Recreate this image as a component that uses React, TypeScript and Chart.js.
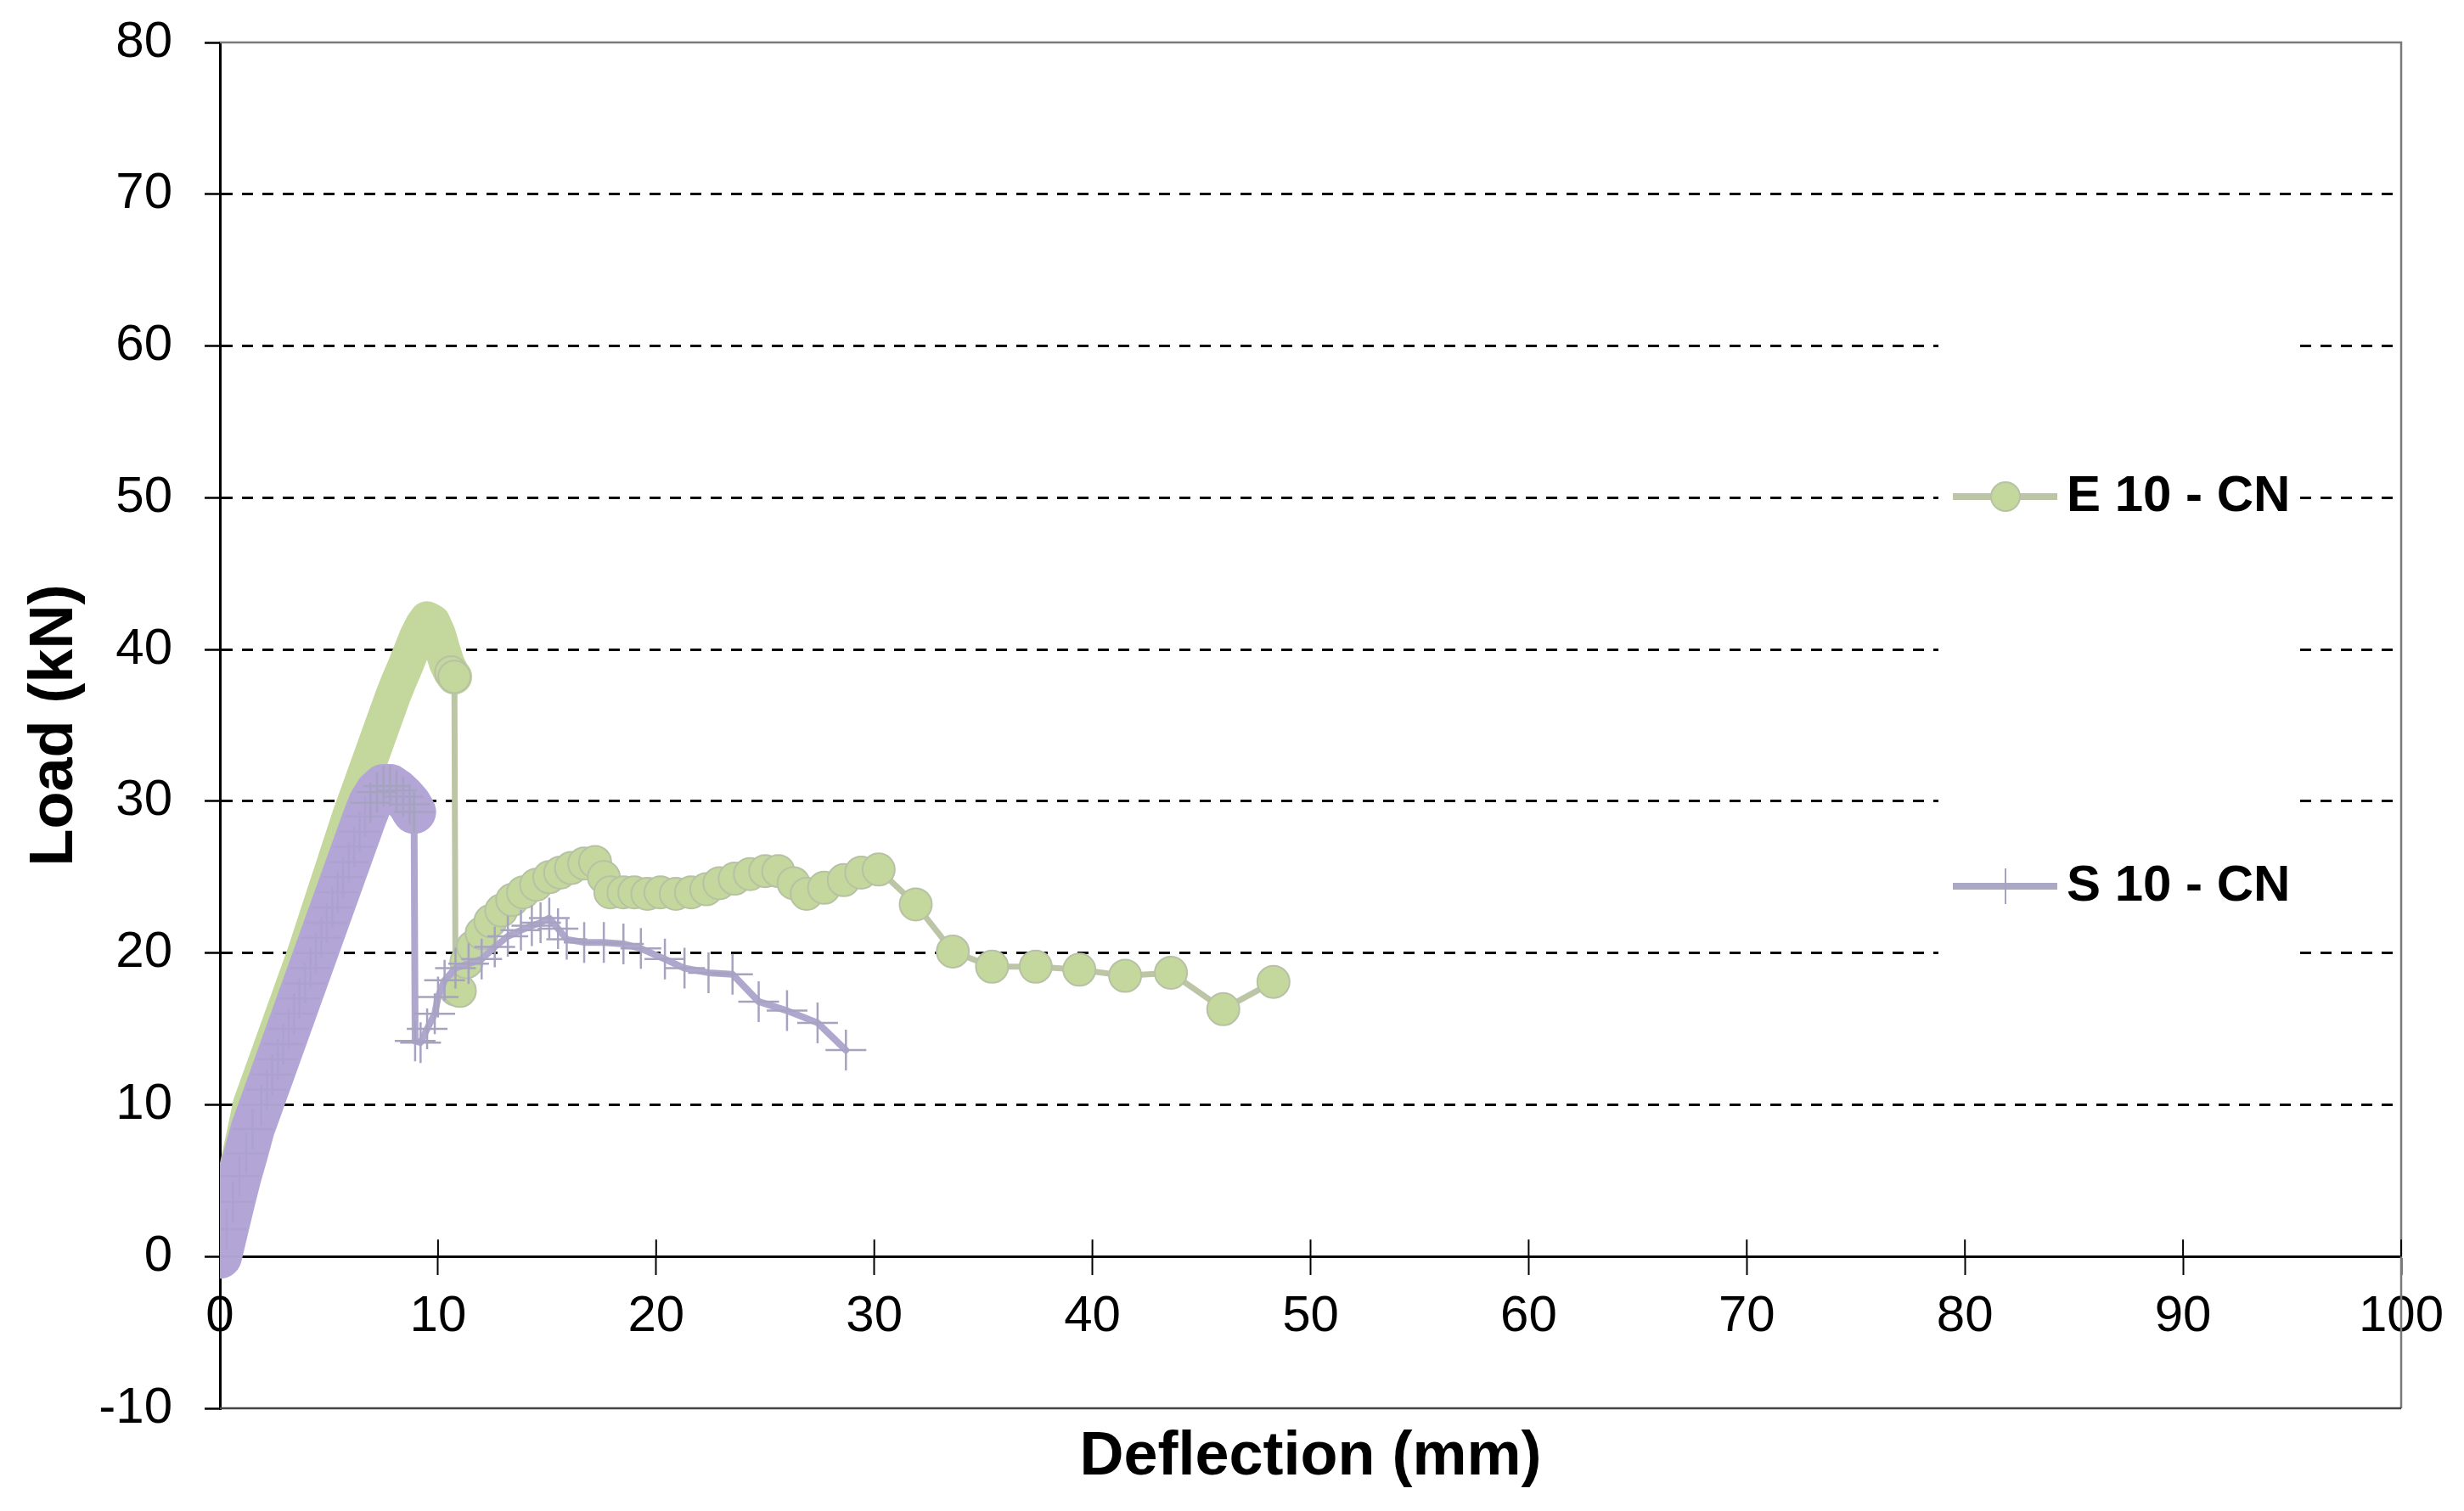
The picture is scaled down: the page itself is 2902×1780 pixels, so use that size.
import React, { useEffect, useRef } from "react";
import { Chart, registerables } from "chart.js";

Chart.register(...registerables);

const FONT = "'Liberation Sans', Arial, Helvetica, sans-serif";

// ---- axis ticks / labels ----
const xTickValues = [0, 10, 20, 30, 40, 50, 60, 70, 80, 90, 100];
const yTickValues = [-10, 0, 10, 20, 30, 40, 50, 60, 70, 80];
const dashedGridValues = [10, 20, 30, 40, 50, 60, 70];
const seriesNames = ["E 10 - CN", "S 10 - CN"];
const xAxisTitle = "Deflection (mm)";
const yAxisTitle = "Load (kN)";

// ---- series E 10 - CN (green circles) ----
const e10Deflection = [
  0, 0.15, 0.3, 0.5, 0.7, 0.9, 1.1, 1.4, 1.65, 1.9, 2.15, 2.4, 2.65, 2.9, 3.15, 3.4, 3.65, 3.9,
  4.15, 4.4, 4.65, 4.9, 5.2, 5.45, 5.7, 5.95, 6.2, 6.45, 6.7, 6.95, 7.2, 7.45, 7.7, 7.95, 8.2, 8.5,
  8.8, 9.05, 9.3, 9.5, 9.75, 10.0, 10.2, 10.4, 10.6, 10.75, 10.8, 11.0, 11.3, 11.6, 12.0, 12.4,
  12.9, 13.4, 13.9, 14.5, 15.1, 15.6, 16.1, 16.7, 17.2, 17.6, 17.9, 18.5, 19.0, 19.6, 20.2, 20.9,
  21.6, 22.3, 22.9, 23.6, 24.3, 25.0, 25.6, 26.3, 26.9, 27.7, 28.6, 29.4, 30.2, 31.9, 33.6, 35.4,
  37.4, 39.4, 41.5, 43.6, 46.0, 48.3,
];
const e10Load = [
  0, 1.2, 2.4, 3.8, 5.2, 6.6, 7.9, 10, 11, 12, 13, 14, 15, 16, 17, 18, 19, 20,
  21.1, 22.2, 23.3, 24.4, 25.7, 26.8, 27.9, 29, 30, 31, 32, 33, 34, 35, 36, 37, 37.9, 38.9,
  40, 40.9, 41.6, 42, 41.8, 41, 40, 39.1, 38.5, 38.2, 17.6, 17.5, 19.4, 20.4, 21.3, 22.1,
  22.8, 23.5, 24.0, 24.5, 25.0, 25.3, 25.6, 25.9, 26.0, 25.0, 24.0, 24.0, 24.0, 23.9, 24.0, 23.9,
  24.0, 24.2, 24.6, 24.9, 25.2, 25.4, 25.4, 24.6, 23.9, 24.3, 24.8, 25.3, 25.5, 23.2, 20.1, 19.1,
  19.1, 18.9, 18.5, 18.7, 16.3, 18.1,
];

// ---- series S 10 - CN (purple crosses) ----
const s10Deflection = [
  0, 0.3, 0.6, 0.9, 1.2, 1.5, 1.9, 2.15, 2.4, 2.65, 2.9, 3.15, 3.4, 3.65, 3.9, 4.15, 4.4, 4.65,
  4.9, 5.15, 5.4, 5.65, 5.9, 6.15, 6.4, 6.65, 6.9, 7.2, 7.5, 7.8, 8.1, 8.4, 8.7, 8.9, 8.95, 9.2,
  9.5, 9.85, 10.0, 10.3, 10.8, 11.4, 12.0, 12.6, 13.2, 13.8, 14.3, 14.7, 15.1, 15.5, 15.9, 16.7,
  17.6, 18.5, 19.3, 20.4, 21.3, 22.4, 23.5, 24.7, 26.0, 27.4, 28.7,
];
const s10Load = [
  0, 1.8, 3.6, 5.3, 6.8, 8.4, 10, 11, 12, 13, 14, 15, 16, 17, 18, 19, 20, 21,
  22, 23, 24, 25, 26, 27, 28, 29, 29.9, 30.6, 31, 31, 30.7, 30.3, 29.8, 29.3, 14.2, 14.1,
  15, 16, 17.1, 18.2, 19, 19.3, 19.6, 20.4, 21.1, 21.5, 21.8, 22.0, 22.3, 21.6, 20.9, 20.7,
  20.7, 20.6, 20.3, 19.6, 19.0, 18.7, 18.6, 16.8, 16.2, 15.4, 13.6,
];

const GREEN_FILL = "#c4d79c";
const GREEN_EDGE = "#b7c2a5";
const GREEN_LINE = "#bcc6a7";
const PURPLE_BAND = "#b3a6d6";
const PURPLE_LINE = "#b0a7cf";
const PURPLE_MARK = "#a6a3c1";

const toPoints = (xs: number[], ys: number[]) => xs.map((x, i) => ({ x, y: ys[i] }));
// index of the last point before the big load drop (end of the dense loading branch)
const lastBeforeDrop = (ys: number[]) =>
  ys.findIndex((v, i) => i < ys.length - 1 && v - ys[i + 1] > 10);
const e10BandEnd = lastBeforeDrop(e10Load);
const s10BandEnd = lastBeforeDrop(s10Load);

const decorPlugin = {
  id: "decor",
  beforeDatasetsDraw(chart: any) {
    const { ctx, chartArea: a, scales } = chart;
    ctx.save();
    ctx.strokeStyle = "#7a7a7a";
    ctx.lineWidth = 2.5;
    ctx.beginPath();
    ctx.moveTo(a.left, a.top);
    ctx.lineTo(a.right, a.top);
    ctx.lineTo(a.right, a.bottom);
    ctx.stroke();
    ctx.strokeStyle = "#444";
    ctx.beginPath();
    ctx.moveTo(a.left, a.bottom);
    ctx.lineTo(a.right, a.bottom);
    ctx.stroke();
    const y0 = scales.y.getPixelForValue(0);
    ctx.strokeStyle = "#000";
    ctx.lineWidth = 2;
    for (const v of xTickValues) {
      const px = scales.x.getPixelForValue(v);
      ctx.beginPath();
      ctx.moveTo(px, y0);
      ctx.lineTo(px, y0 - 20);
      ctx.stroke();
    }
    ctx.restore();
  },
  afterDraw(chart: any) {
    const { ctx, chartArea: a } = chart;
    ctx.save();
    const lx = a.right - 545;
    ctx.fillStyle = "#ffffff";
    ctx.fillRect(lx, 357, 426, 918);
    const itemY = [585, 1044];
    const lineX1 = lx + 17;
    const lineX2 = lx + 140;
    const markX = lx + 79;
    ctx.strokeStyle = GREEN_LINE;
    ctx.lineWidth = 8;
    ctx.beginPath();
    ctx.moveTo(lineX1, itemY[0]);
    ctx.lineTo(lineX2, itemY[0]);
    ctx.stroke();
    ctx.beginPath();
    ctx.arc(markX, itemY[0], 17, 0, Math.PI * 2);
    ctx.fillStyle = GREEN_FILL;
    ctx.fill();
    ctx.lineWidth = 2;
    ctx.strokeStyle = GREEN_EDGE;
    ctx.stroke();
    ctx.strokeStyle = "#aba8c4";
    ctx.lineWidth = 8;
    ctx.beginPath();
    ctx.moveTo(lineX1, itemY[1]);
    ctx.lineTo(lineX2, itemY[1]);
    ctx.stroke();
    ctx.strokeStyle = PURPLE_MARK;
    ctx.lineWidth = 2;
    ctx.beginPath();
    ctx.moveTo(markX, itemY[1] - 21);
    ctx.lineTo(markX, itemY[1] + 21);
    ctx.stroke();
    ctx.fillStyle = "#000";
    ctx.font = `bold 60px ${FONT}`;
    ctx.textAlign = "left";
    ctx.textBaseline = "middle";
    ctx.fillText(seriesNames[0], lx + 151, itemY[0]);
    ctx.fillText(seriesNames[1], lx + 151, itemY[1]);
    ctx.font = `bold 72px ${FONT}`;
    ctx.textAlign = "center";
    ctx.textBaseline = "alphabetic";
    ctx.fillText(xAxisTitle, (a.left + a.right) / 2, 1737);
    ctx.restore();
  },
};

export default function App() {
  const canvasRef = useRef<HTMLCanvasElement | null>(null);

  useEffect(() => {
    if (!canvasRef.current) return;
    const chart = new Chart(canvasRef.current, {
      type: "scatter",
      data: {
        datasets: [
          {
            label: seriesNames[0],
            data: toPoints(e10Deflection, e10Load),
            showLine: true,
            borderColor: GREEN_LINE,
            borderWidth: 7,
            borderJoinStyle: "round",
            borderCapStyle: "round",
            segment: {
              borderWidth: (c: any) => (c.p1DataIndex <= e10BandEnd ? 42 : 7),
              borderColor: (c: any) => (c.p1DataIndex <= e10BandEnd ? GREEN_FILL : GREEN_LINE),
            },
            pointStyle: "circle",
            pointRadius: 19,
            pointBorderWidth: 2,
            pointBackgroundColor: GREEN_FILL,
            pointBorderColor: (c: any) => (c.dataIndex <= e10BandEnd - 2 ? GREEN_FILL : GREEN_EDGE),
            tension: 0,
            order: 1,
          },
          {
            label: seriesNames[1],
            data: toPoints(s10Deflection, s10Load),
            showLine: true,
            borderColor: PURPLE_LINE,
            borderWidth: 8,
            borderJoinStyle: "round",
            borderCapStyle: "round",
            segment: {
              borderWidth: (c: any) => (c.p1DataIndex <= s10BandEnd ? 52 : 8),
              borderColor: (c: any) => (c.p1DataIndex <= s10BandEnd ? PURPLE_BAND : PURPLE_LINE),
            },
            pointStyle: "cross",
            pointRadius: 24,
            pointBorderWidth: 2.5,
            pointBackgroundColor: PURPLE_MARK,
            pointBorderColor: (c: any) => (c.dataIndex < s10BandEnd - 7 ? "#aca1cf" : PURPLE_MARK),
            tension: 0,
            order: 0,
          },
        ],
      },
      options: {
        animation: false,
        responsive: false,
        maintainAspectRatio: false,
        devicePixelRatio: 1,
        events: [],
        layout: { padding: { left: 0, right: 74, top: 50, bottom: 121 } },
        plugins: {
          legend: { display: false },
          tooltip: { enabled: false },
          title: { display: false },
        },
        scales: {
          x: {
            type: "linear",
            min: 0,
            max: 100,
            position: { y: 0 } as any,
            afterBuildTicks: (s: any) => {
              s.ticks = xTickValues.map((v) => ({ value: v }));
            },
            ticks: {
              font: { family: FONT, size: 60 },
              color: "#000",
              padding: 15,
              maxRotation: 0,
              autoSkip: false,
            },
            grid: {
              drawOnChartArea: false,
              drawTicks: true,
              tickLength: 20,
              tickColor: "#000",
              tickWidth: 2,
              tickBorderDash: [],
            } as any,
            border: { display: true, color: "#000", width: 3 },
          },
          y: {
            type: "linear",
            min: -10,
            max: 80,
            afterBuildTicks: (s: any) => {
              s.ticks = yTickValues.map((v) => ({ value: v }));
            },
            afterFit: (s: any) => {
              s.width = 259;
              s.paddingTop = 0;
              s.paddingBottom = 0;
            },
            ticks: {
              font: { family: FONT, size: 60 },
              color: "#000",
              padding: 38,
              autoSkip: false,
            },
            grid: {
              drawOnChartArea: true,
              color: (c: any) =>
                c.tick && dashedGridValues.includes(c.tick.value) ? "#000" : "rgba(0,0,0,0)",
              lineWidth: 3,
              drawTicks: true,
              tickLength: 18,
              tickColor: "#000",
              tickWidth: 2.5,
              tickBorderDash: [],
            } as any,
            border: { display: true, color: "#000", width: 3, dash: [13, 11] },
            title: {
              display: true,
              text: yAxisTitle,
              color: "#000",
              font: { family: FONT, size: 72, weight: "bold" },
              padding: { top: 22, bottom: 0 },
            },
          },
        },
      },
      plugins: [decorPlugin],
    } as any);
    return () => chart.destroy();
  }, []);

  return (
    <div
      style={{
        position: "fixed",
        left: 0,
        top: 0,
        width: 2902,
        height: 1780,
        background: "#ffffff",
      }}
    >
      <canvas ref={canvasRef} width={2902} height={1780} style={{ display: "block" }} />
    </div>
  );
}
